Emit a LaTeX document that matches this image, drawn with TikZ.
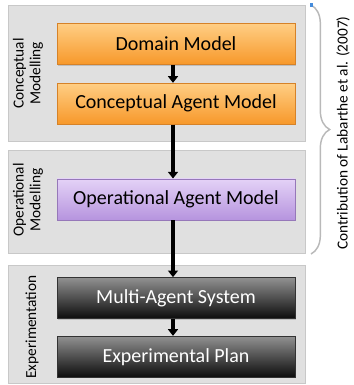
\documentclass[tikz,border=0pt]{standalone}
\usepackage{fontspec}
\setmainfont{Carlito}
\usepackage{tikz}
\usetikzlibrary{arrows.meta, positioning, shadows, decorations.pathreplacing}
\definecolor{panelgray}{RGB}{224,224,224}
\definecolor{panelline}{RGB}{200,200,200}
\definecolor{orangetop}{RGB}{255,206,132}
\definecolor{orangebot}{RGB}{247,152,42}
\definecolor{orangeline}{RGB}{214,130,40}
\definecolor{purpletop}{RGB}{228,210,247}
\definecolor{purplebot}{RGB}{182,148,222}
\definecolor{purpleline}{RGB}{150,120,185}
\definecolor{darktop}{RGB}{145,145,145}
\definecolor{darkbot}{RGB}{12,12,12}
\definecolor{bracegray}{RGB}{185,185,185}
\definecolor{handleblue}{RGB}{70,140,220}

\begin{document}
\begin{tikzpicture}[x=0.75pt, y=-0.75pt, >={Triangle[width=7.5pt,length=5pt]}, node distance=13.5pt,
    panel/.style={draw=panelline, fill=panelgray, line width=0.5pt, minimum width=222.75pt},
    modelbox/.style={draw, line width=0.5pt, minimum width=178.5pt, minimum height=30.75pt,
      font=\fontsize{15}{16.5}\selectfont,
      drop shadow={opacity=0.35, shadow xshift=0.9pt, shadow yshift=-0.9pt}},
    sidelabel/.style={rotate=90, align=center, font=\fontsize{11.5}{12.5}\selectfont},
    flow/.style={->, line width=3pt}]
        \useasboundingbox (0,0) rectangle (353,385);
        % panels
        \node[panel, minimum height=102pt] (pconc) at (156.5,73) {};
        \node[panel, minimum height=77.25pt] (poper) at (156.5,201.5) {};
        \node[panel, minimum height=88.5pt] (pexp) at (156.5,324) {};
        \node[sidelabel] (lconc) at (28,73.5) {Conceptual\\Modelling};
        \node[sidelabel] (loper) at (28,200) {Operational\\Modelling};
        \node[sidelabel] (lexp) at (32,327) {Experimentation};
        % models
        \node[modelbox, draw=orangeline, top color=orangetop, bottom color=orangebot] (dom) at (176,44) {Domain Model};
        \node[modelbox, draw=orangeline, top color=orangetop, bottom color=orangebot, below=of dom] (cam) {Conceptual Agent Model};
        \node[modelbox, draw=purpleline, top color=purpletop, bottom color=purplebot, below=40.5pt of cam] (oam) {Operational Agent Model};
        \node[modelbox, draw=black!80, top color=darktop, bottom color=darkbot, text=white, below=42.75pt of oam] (mas) {Multi-Agent System};
        \node[modelbox, draw=black!80, top color=darktop, bottom color=darkbot, text=white, below=12.75pt of mas] (ep) {Experimental Plan};
        \draw[flow] ([xshift=-2.25pt]dom.south) -- ([xshift=-2.25pt]cam.north);
        \draw[flow] ([xshift=-2.25pt]cam.south) -- ([xshift=-2.25pt]oam.north);
        \draw[flow] ([xshift=-2.25pt]oam.south) -- ([xshift=-2.25pt]mas.north);
        \draw[flow] ([xshift=-2.25pt]mas.south) -- ([xshift=-2.25pt]ep.north);
        % contribution brace
        \coordinate (btop) at (311,5);
        \coordinate (bbot) at (311,254);
        \draw[bracegray, line width=1.1pt, decorate, decoration={brace, amplitude=14pt}] (btop) -- (bbot);
        \fill[handleblue] (309.5,3.5) rectangle (313,7.5);
        \node[sidelabel] (contrib) at (343,133) {Contribution of Labarthe et al. (2007)};
\end{tikzpicture}
\end{document}
